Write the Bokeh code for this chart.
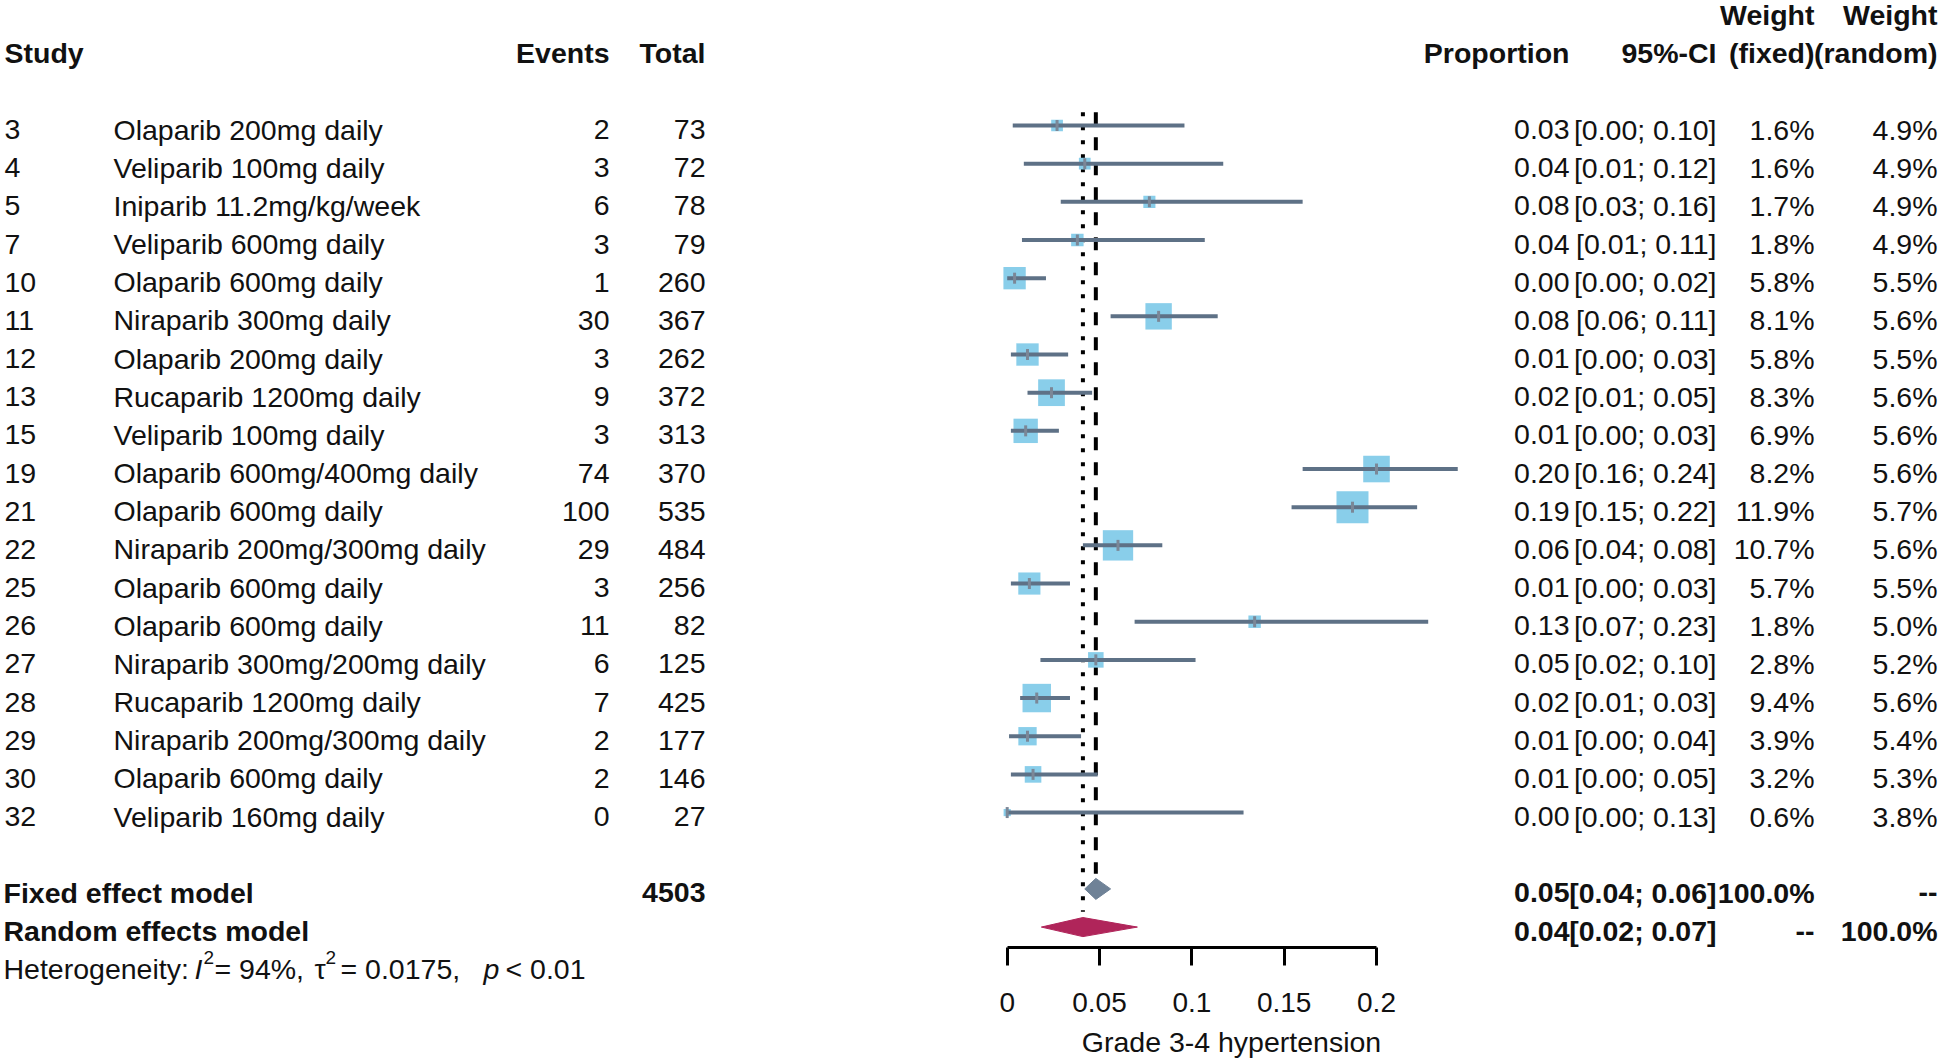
import math
from bokeh.plotting import figure
from bokeh.models import Range1d, LinearAxis, FixedTicker, CustomJSTickFormatter, ColumnDataSource
from bokeh.core.properties import value
from bokeh.embed import file_html
from bokeh.resources import INLINE

# ---------------- data ----------------
study = ["3", "4", "5", "7", "10", "11", "12", "13", "15", "19", "21", "22",
         "25", "26", "27", "28", "29", "30", "32"]
treatment = ["Olaparib 200mg daily", "Veliparib 100mg daily", "Iniparib 11.2mg/kg/week",
             "Veliparib 600mg daily", "Olaparib 600mg daily", "Niraparib 300mg daily",
             "Olaparib 200mg daily", "Rucaparib 1200mg daily", "Veliparib 100mg daily",
             "Olaparib 600mg/400mg daily", "Olaparib 600mg daily", "Niraparib 200mg/300mg daily",
             "Olaparib 600mg daily", "Olaparib 600mg daily", "Niraparib 300mg/200mg daily",
             "Rucaparib 1200mg daily", "Niraparib 200mg/300mg daily", "Olaparib 600mg daily",
             "Veliparib 160mg daily"]
events = [2, 3, 6, 3, 1, 30, 3, 9, 3, 74, 100, 29, 3, 11, 6, 7, 2, 2, 0]
total = [73, 72, 78, 79, 260, 367, 262, 372, 313, 370, 535, 484, 256, 82, 125, 425, 177, 146, 27]
proportion = [0.027, 0.042, 0.077, 0.038, 0.004, 0.082, 0.011, 0.024, 0.010, 0.200,
              0.187, 0.060, 0.012, 0.134, 0.048, 0.016, 0.011, 0.014, 0.000]
ci_lower = [0.003, 0.009, 0.029, 0.008, 0.000, 0.056, 0.002, 0.011, 0.002, 0.160,
            0.154, 0.041, 0.002, 0.069, 0.018, 0.007, 0.001, 0.002, 0.000]
ci_upper = [0.096, 0.117, 0.160, 0.107, 0.021, 0.114, 0.033, 0.046, 0.028, 0.244,
            0.222, 0.084, 0.034, 0.228, 0.102, 0.034, 0.040, 0.049, 0.128]
weight_fixed = [1.6, 1.6, 1.7, 1.8, 5.8, 8.1, 5.8, 8.3, 6.9, 8.2, 11.9, 10.7,
                5.7, 1.8, 2.8, 9.4, 3.9, 3.2, 0.6]
weight_random = [4.9, 4.9, 4.9, 4.9, 5.5, 5.6, 5.5, 5.6, 5.6, 5.6, 5.7, 5.6,
                 5.5, 5.0, 5.2, 5.6, 5.4, 5.3, 3.8]

fixed_est, fixed_lo, fixed_hi = 0.048, 0.042, 0.056
random_est, random_lo, random_hi = 0.041, 0.0185, 0.0705
total_n = 4503
heterogeneity_I2 = "94%"
heterogeneity_tau2 = "0.0175"
heterogeneity_p = "< 0.01"

tick_vals = [0, 0.05, 0.1, 0.15, 0.2]
x_label = "Grade 3-4 hypertension"

# ---------------- layout constants (page pixels) ----------------
W, H = 1940, 1058
X0, XS = 1006.7, 1846.5      # page px of proportion 0, px per unit
Y0, YS = 125.0, 38.17        # page px of row 0, px per row

def xcol(px):
    return (px - X0) / XS

def yrow(py):
    return (py - Y0) / YS

n = len(study)
rows = list(range(n))
HDR1, HDR2 = -3, -2
FIXED_ROW, RANDOM_ROW, HET_ROW = n + 1, n + 2, n + 3
AXIS_ROW = yrow(946.7)

FONT = "Liberation Sans"
FS = "28.5px"
TXT = "#111111"

p = figure(width=W, height=H, output_backend="svg", toolbar_location=None,
           x_range=Range1d(xcol(0), xcol(W)),
           y_range=Range1d(yrow(H), yrow(0)),
           x_axis_location=None, y_axis_location=None, min_border=0)
p.outline_line_color = None
p.background_fill_color = "white"
p.border_fill_color = "white"
p.xgrid.grid_line_color = None
p.ygrid.grid_line_color = None


def put(xs, ys, texts, align="left", style="normal", size=FS, xoff=0, yoff=4,
        baseline="middle", color=TXT):
    src = ColumnDataSource(dict(x=list(xs), y=list(ys), t=list(texts)))
    p.text(x="x", y="y", text="t", source=src, text_align=align, text_baseline=baseline,
           text_font=value(FONT), text_font_size=size, text_font_style=style,
           text_color=color, x_offset=xoff, y_offset=yoff)


# ---------------- reference lines ----------------
p.segment(x0=[fixed_est], y0=[-0.35], x1=[fixed_est], y1=[FIXED_ROW - 0.4],
          line_color="black", line_width=4, line_dash="13 12")
p.segment(x0=[random_est], y0=[-0.35], x1=[random_est], y1=[RANDOM_ROW - 0.4],
          line_color="black", line_width=4, line_dash="4 10")

# ---------------- study squares + CIs ----------------
sq_size = [32 * math.sqrt(w / max(weight_fixed)) for w in weight_fixed]
p.scatter(x=proportion, y=rows, size=sq_size, marker="square",
          fill_color="#89CEEA", line_color=None)
p.segment(x0=ci_lower, y0=rows, x1=ci_upper, y1=rows, line_color="#5E7186", line_width=4)
p.scatter(x=proportion, y=rows, marker="dash", angle=math.pi / 2, size=11,
          line_color="#7B8797", line_width=3)

# ---------------- diamonds ----------------
h1, h2 = 0.275, 0.25
p.patches(xs=[[fixed_lo, fixed_est, fixed_hi, fixed_est]],
          ys=[[FIXED_ROW, FIXED_ROW - h1, FIXED_ROW, FIXED_ROW + h1]],
          fill_color="#6F8297", line_color="#6F8297", line_width=1)
p.patches(xs=[[random_lo, random_est, random_hi, random_est]],
          ys=[[RANDOM_ROW, RANDOM_ROW - h2, RANDOM_ROW, RANDOM_ROW + h2]],
          fill_color="#B0255A", line_color="#B0255A", line_width=1)

# ---------------- axis ----------------
ax = LinearAxis(bounds=(0, 0.2), ticker=FixedTicker(ticks=tick_vals),
                formatter=CustomJSTickFormatter(code="return String(tick);"),
                fixed_location=AXIS_ROW)
ax.axis_line_width = 3
ax.axis_line_color = "black"
ax.major_tick_line_width = 3
ax.major_tick_line_color = "black"
ax.major_tick_out = 18
ax.major_tick_in = 0
ax.minor_tick_line_color = None
ax.major_label_text_font = FONT
ax.major_label_text_font_size = "28px"
ax.major_label_text_color = TXT
ax.major_label_standoff = 28
p.add_layout(ax, "below")

put([xcol(1231)], [yrow(1041)], [x_label], align="center", baseline="alphabetic", yoff=0)

# ---------------- left table ----------------
put([xcol(4)], [HDR2], ["Study"], style="bold")
put([xcol(609)], [HDR2], ["Events"], align="right", style="bold")
put([xcol(705)], [HDR2], ["Total"], align="right", style="bold")

put([xcol(4)] * n, rows, study)
put([xcol(113)] * n, rows, treatment)
put([xcol(609)] * n, rows, [str(e) for e in events], align="right")
put([xcol(705)] * n, rows, [str(t) for t in total], align="right")

put([xcol(3)] * 2, [FIXED_ROW, RANDOM_ROW], ["Fixed effect model", "Random effects model"], style="bold")
put([xcol(705)], [FIXED_ROW], [str(total_n)], align="right", style="bold")

# heterogeneity line
hx = xcol(3)
put([hx], [HET_ROW], ["Heterogeneity:"])
put([hx], [HET_ROW], ["I"], style="italic", xoff=191)
put([hx], [HET_ROW], ["2"], size="19px", xoff=200, yoff=-8)
put([hx], [HET_ROW], ["= " + heterogeneity_I2 + ","], xoff=211)
put([hx], [HET_ROW], ["\u03c4"], xoff=311)
put([hx], [HET_ROW], ["2"], size="19px", xoff=322, yoff=-8)
put([hx], [HET_ROW], ["= " + heterogeneity_tau2 + ","], xoff=337)
put([hx], [HET_ROW], ["p"], style="italic", xoff=480)
put([hx], [HET_ROW], [heterogeneity_p], xoff=502)

# ---------------- right table ----------------
PX, CX, WFX, WRX = 1569, 1716, 1814, 1937
put([xcol(WFX), xcol(WRX)], [HDR1, HDR1], ["Weight", "Weight"], align="right", style="bold")
put([xcol(PX)], [HDR2], ["Proportion"], align="right", style="bold")
put([xcol(CX)], [HDR2], ["95%-CI"], align="right", style="bold")
put([xcol(WFX)], [HDR2], ["(fixed)"], align="right", style="bold")
put([xcol(WRX)], [HDR2], ["(random)"], align="right", style="bold")

put([xcol(PX)] * n, rows, [f"{v:.2f}" for v in proportion], align="right")
put([xcol(CX)] * n, rows, [f"[{a:.2f}; {b:.2f}]" for a, b in zip(ci_lower, ci_upper)], align="right")
put([xcol(WFX)] * n, rows, [f"{w:.1f}%" for w in weight_fixed], align="right")
put([xcol(WRX)] * n, rows, [f"{w:.1f}%" for w in weight_random], align="right")

put([xcol(PX)] * 2, [FIXED_ROW, RANDOM_ROW], [f"{fixed_est:.2f}", f"{random_est:.2f}"], align="right", style="bold")
put([xcol(CX)] * 2, [FIXED_ROW, RANDOM_ROW],
    [f"[{fixed_lo:.2f}; {fixed_hi:.2f}]", f"[{random_lo:.2f}; {random_hi:.2f}]"], align="right", style="bold")
put([xcol(WFX)] * 2, [FIXED_ROW, RANDOM_ROW], ["100.0%", "--"], align="right", style="bold")
put([xcol(WRX)] * 2, [FIXED_ROW, RANDOM_ROW], ["--", "100.0%"], align="right", style="bold")

open("out.html", "w").write(file_html(p, INLINE))
